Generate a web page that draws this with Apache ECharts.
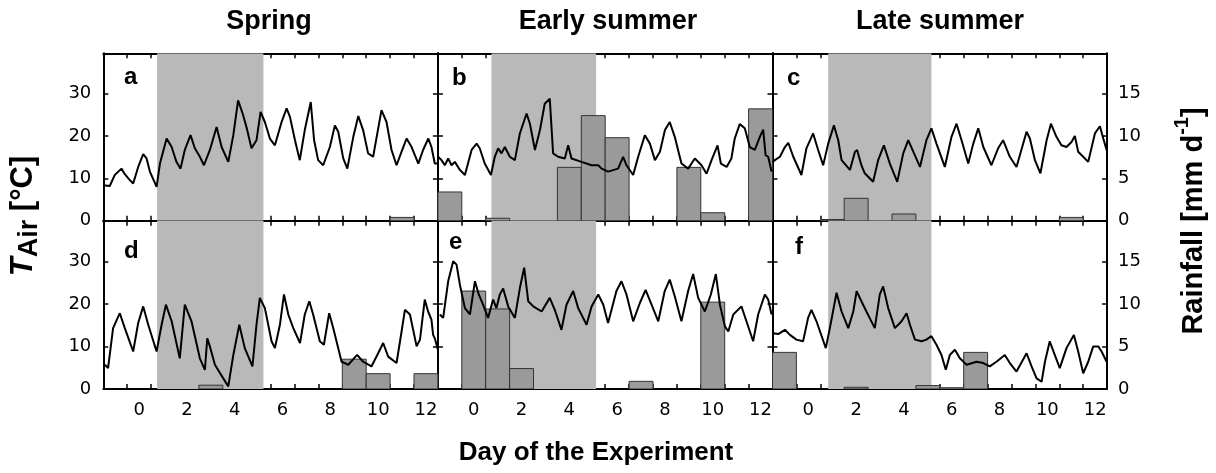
<!DOCTYPE html>
<html><head><meta charset="utf-8">
<script src="https://cdn.jsdelivr.net/npm/echarts@6/dist/echarts.min.js"></script>
<style>html,body{margin:0;padding:0;background:#fff}#c{width:1216px;height:473px}</style>
</head><body><div id="c"></div><script>
// ---------- data ----------
const seasons = ['Spring', 'Early summer', 'Late summer'];
const panelLetters = ['a', 'b', 'c', 'd', 'e', 'f'];
const xTickValues = [-0.5, 0.5, 1.5, 2.5, 3.5, 4.5, 5.5, 6.5, 7.5, 8.5, 9.5, 10.5, 11.5];
const xLabelValues = [0, 2, 4, 6, 8, 10, 12];
const tempTicks = [0, 10, 20, 30];
const rainTicks = [0, 5, 10, 15];
const rainDays = [-1, 0, 1, 2, 3, 4, 5, 6, 7, 8, 9, 10, 11, 12];
// shaded period (start, end day) per season
const bandSpring = [0.75, 5.2];
const bandEarly = [0.74, 5.12];
const bandLate = [0.83, 5.15];

// air temperature [day, degC]
const tempA = [[-1.5,8.4],[-1.23,8.2],[-1.02,10.8],[-0.74,12.3],[-0.6,11.0],[-0.39,9.6],[-0.25,8.8],[-0.04,12.7],[0.17,15.7],[0.31,14.7],[0.45,11.6],[0.73,8.0],[0.87,13.5],[1.15,19.4],[1.36,17.4],[1.56,13.9],[1.73,12.3],[1.91,16.7],[2.15,20.2],[2.33,17.1],[2.54,15.1],[2.71,13.1],[2.96,16.7],[3.24,22.1],[3.45,17.4],[3.73,13.9],[3.94,20.2],[4.14,28.4],[4.33,25.3],[4.49,22.1],[4.7,17.1],[4.91,19.0],[5.08,25.7],[5.26,23.3],[5.47,19.4],[5.68,17.8],[5.96,23.3],[6.17,26.5],[6.31,24.5],[6.52,19.0],[6.72,14.3],[6.93,21.4],[7.18,28.0],[7.32,19.0],[7.49,14.3],[7.7,13.1],[7.98,17.4],[8.19,22.5],[8.33,21.0],[8.54,14.7],[8.71,12.3],[8.96,19.8],[9.17,24.7],[9.37,21.4],[9.58,15.9],[9.79,15.1],[10.14,26.1],[10.35,23.3],[10.56,16.7],[10.77,13.1],[10.98,16.3],[11.19,19.4],[11.4,17.4],[11.68,13.5],[11.88,16.7],[12.1,19.4],[12.23,17.4],[12.37,13.5],[12.5,13.5]];
const tempB = [[-1.49,15.1],[-1.35,14.3],[-1.21,13.1],[-1.07,14.7],[-0.93,13.1],[-0.79,13.9],[-0.58,12.0],[-0.37,10.8],[-0.09,16.7],[0.12,18.2],[0.25,17.1],[0.46,13.5],[0.72,10.8],[0.88,15.1],[1.02,17.1],[1.16,15.9],[1.3,17.4],[1.51,15.1],[1.72,14.3],[1.93,20.6],[2.21,25.3],[2.35,22.9],[2.56,16.7],[2.77,21.4],[2.97,27.6],[3.18,28.8],[3.32,15.9],[3.53,15.1],[3.81,14.7],[3.95,17.8],[4.09,14.7],[4.51,13.9],[4.93,13.1],[5.21,13.1],[5.35,12.3],[5.62,11.6],[6.04,12.3],[6.25,15.1],[6.39,13.1],[6.67,10.8],[6.88,15.1],[7.16,20.2],[7.37,18.2],[7.58,14.3],[7.79,16.3],[8.0,21.4],[8.2,23.3],[8.41,19.8],[8.69,13.5],[8.97,12.3],[9.25,14.7],[9.53,13.1],[9.74,11.1],[9.95,14.3],[10.2,17.8],[10.34,13.5],[10.58,12.7],[10.78,14.7],[10.92,19.4],[11.13,22.8],[11.34,21.8],[11.55,17.4],[11.76,16.7],[11.97,19.8],[12.11,21.5],[12.21,15.5],[12.32,15.1],[12.46,11.6]];
const tempC = [[-1.5,13.9],[-1.4,14.3],[-1.19,15.1],[-0.98,17.4],[-0.84,18.4],[-0.63,15.1],[-0.29,10.8],[-0.08,17.1],[0.2,20.6],[0.41,16.7],[0.62,13.1],[0.83,18.2],[1.07,22.5],[1.25,19.0],[1.39,14.3],[1.74,12.0],[1.95,16.3],[2.04,16.7],[2.22,13.1],[2.36,11.2],[2.71,9.2],[2.92,14.3],[3.16,17.8],[3.41,13.5],[3.72,9.2],[3.97,15.9],[4.18,19.0],[4.39,16.3],[4.67,12.7],[4.94,19.0],[5.15,21.8],[5.36,18.2],[5.71,12.7],[5.99,19.8],[6.2,22.9],[6.41,19.0],[6.69,13.5],[6.9,18.2],[7.11,21.8],[7.32,17.4],[7.66,13.1],[7.94,17.1],[8.15,19.0],[8.43,15.1],[8.71,12.7],[9.13,21.0],[9.27,19.4],[9.48,14.3],[9.71,11.2],[9.97,19.0],[10.15,22.9],[10.38,19.8],[10.59,17.8],[10.8,17.4],[11.01,18.6],[11.15,20.0],[11.29,16.3],[11.5,15.1],[11.71,13.9],[11.99,20.6],[12.2,22.3],[12.34,19.4],[12.48,16.7]];
const tempD = [[-1.43,5.7],[-1.3,4.9],[-1.09,14.3],[-0.81,17.8],[-0.6,14.3],[-0.25,8.8],[-0.04,15.5],[0.17,19.4],[0.38,15.1],[0.73,8.8],[0.94,15.1],[1.12,19.8],[1.36,15.9],[1.7,7.2],[1.91,19.8],[2.19,15.9],[2.54,7.2],[2.75,4.5],[2.85,11.9],[2.96,10.0],[3.17,5.7],[3.52,2.5],[3.73,0.6],[3.94,8.0],[4.19,15.1],[4.42,9.6],[4.74,5.3],[4.91,15.1],[5.05,21.4],[5.26,19.0],[5.54,11.2],[5.68,9.6],[5.89,15.1],[6.06,22.2],[6.24,17.5],[6.45,14.3],[6.73,10.8],[6.93,17.5],[7.12,20.6],[7.28,17.5],[7.56,11.2],[7.73,10.4],[7.95,17.8],[8.12,14.3],[8.47,6.4],[8.75,5.7],[9.12,8.0],[9.37,6.4],[9.72,5.3],[10.0,8.4],[10.21,10.8],[10.42,7.6],[10.77,6.1],[10.98,13.5],[11.12,18.6],[11.33,17.5],[11.61,10.0],[11.75,11.6],[11.95,21.0],[12.09,18.2],[12.23,16.3],[12.3,12.7],[12.37,11.9],[12.5,9.2]];
const tempE = [[-1.42,17.5],[-1.28,16.7],[-1.07,25.3],[-0.86,30.0],[-0.72,29.2],[-0.58,24.5],[-0.37,19.0],[-0.16,17.5],[0.05,25.3],[0.21,22.2],[0.39,19.8],[0.6,16.7],[0.81,21.0],[0.95,19.0],[1.09,22.2],[1.23,23.6],[1.44,19.4],[1.72,16.7],[1.93,23.7],[2.11,28.5],[2.28,20.6],[2.49,19.4],[2.84,18.2],[3.18,21.4],[3.39,18.6],[3.67,13.9],[3.88,19.8],[4.16,23.0],[4.37,19.0],[4.72,15.1],[4.93,19.4],[5.21,22.2],[5.42,19.8],[5.62,15.5],[5.97,23.0],[6.18,25.3],[6.39,22.2],[6.67,15.9],[6.95,20.2],[7.19,23.3],[7.44,19.8],[7.72,15.9],[7.99,23.0],[8.2,25.7],[8.41,21.8],[8.69,15.9],[8.97,23.0],[9.18,27.0],[9.39,21.4],[9.67,18.2],[9.92,22.2],[10.13,27.0],[10.3,19.8],[10.51,14.7],[10.65,13.5],[10.86,17.5],[11.2,19.4],[11.41,15.9],[11.69,11.2],[11.9,17.5],[12.18,22.2],[12.32,21.0],[12.46,17.5]];
const tempF = [[-1.47,13.1],[-1.26,12.9],[-0.98,13.9],[-0.77,12.7],[-0.5,11.6],[-0.22,11.2],[-0.01,16.7],[0.13,18.6],[0.34,15.9],[0.73,9.6],[0.9,14.3],[1.18,22.6],[1.39,18.2],[1.67,14.3],[1.88,18.2],[2.02,23.0],[2.22,20.6],[2.43,18.2],[2.78,14.3],[2.99,22.2],[3.13,24.1],[3.34,19.0],[3.62,14.3],[3.9,15.9],[4.11,17.8],[4.25,15.1],[4.46,11.6],[4.74,11.2],[4.94,11.6],[5.15,12.4],[5.36,10.4],[5.57,8.0],[5.75,4.5],[5.92,8.0],[6.13,9.2],[6.34,7.2],[6.62,5.7],[7.04,6.4],[7.32,6.1],[7.59,5.3],[7.87,6.4],[8.22,8.0],[8.43,6.1],[8.71,4.1],[9.13,8.4],[9.34,5.3],[9.55,2.5],[9.76,1.7],[9.9,6.4],[10.1,11.2],[10.31,8.0],[10.52,4.9],[10.8,9.6],[11.11,12.7],[11.29,8.8],[11.5,3.7],[11.71,6.4],[11.92,10.0],[12.13,10.0],[12.27,8.8],[12.48,6.4]];

// daily rainfall [mm/d], one per rainDays entry
const rainA = [0, 0, 0, 0, 0, 0, 0, 0, 0, 0, 0, 0, 0.4, 0];
const rainB = [3.4, 0, 0.3, 0, 0, 6.3, 12.4, 9.8, 0, 0, 6.3, 0.95, 0, 13.2];
const rainC = [0, 0, 0.15, 2.65, 0, 0.8, 0, 0, 0, 0, 0, 0, 0.4, 0];
const rainD = [0, 0, 0, 0, 0.45, 0, 0, 0, 0, 0, 3.5, 1.8, 0, 1.8];
const rainE = [0, 11.5, 9.4, 2.4, 0, 0, 0, 0, 0.9, 0, 0, 10.2, 0, 0];
const rainF = [4.3, 0, 0, 0.2, 0, 0, 0.4, 0.15, 4.3, 0, 0, 0, 0, 0];

// ---------- layout ----------
const X_MIN = -1.5, X_MAX = 12.5, T_MAX = 39.5, R_MAX = 19.75;
const colLeft = [103.3, 437.9, 772.5];
const colWidth = 334.6;
const rowTop = [53.3, 220.8];
const rowHeight = [167.5, 168.2];
const tickFont = 'DejaVu Sans';
const titleFont = 'Liberation Sans';

const panels = [
  {temp: tempA, rain: rainA, band: bandSpring},
  {temp: tempB, rain: rainB, band: bandEarly},
  {temp: tempC, rain: rainC, band: bandLate},
  {temp: tempD, rain: rainD, band: bandSpring},
  {temp: tempE, rain: rainE, band: bandEarly},
  {temp: tempF, rain: rainF, band: bandLate}
];

const grid = [], xAxis = [], yAxis = [], series = [];
const axisLineStyle = {color: '#000', width: 2};
const tickLineStyle = {color: '#000', width: 1.5};

panels.forEach((p, i) => {
  const row = Math.floor(i / 3), col = i % 3;
  grid.push({left: colLeft[col], top: rowTop[row], width: colWidth, height: rowHeight[row], containLabel: false});
  ['bottom', 'top'].forEach(pos => {
    xAxis.push({
      type: 'value', gridIndex: i, position: pos, min: X_MIN, max: X_MAX,
      axisLine: {show: true, onZero: false, lineStyle: axisLineStyle},
      axisTick: {show: true, inside: true, length: 5, customValues: xTickValues, lineStyle: tickLineStyle},
      axisLabel: {show: pos === 'bottom' && row === 1, customValues: xLabelValues, fontSize: 18,
                  fontFamily: tickFont, color: '#000', margin: 12},
      splitLine: {show: false}
    });
  });
  yAxis.push({
    type: 'value', gridIndex: i, position: 'left', min: 0, max: T_MAX,
    axisLine: {show: true, onZero: false, lineStyle: axisLineStyle},
    axisTick: {show: true, inside: true, length: 5, customValues: tempTicks, lineStyle: tickLineStyle},
    axisLabel: {show: col === 0, customValues: tempTicks, fontSize: 18, fontFamily: tickFont, color: '#000', margin: 12},
    splitLine: {show: false}
  });
  yAxis.push({
    type: 'value', gridIndex: i, position: 'right', min: 0, max: R_MAX,
    axisLine: {show: true, onZero: false, lineStyle: axisLineStyle},
    axisTick: {show: true, inside: true, length: 5, customValues: rainTicks, lineStyle: tickLineStyle},
    axisLabel: {show: col === 2, customValues: rainTicks, fontSize: 18, fontFamily: tickFont, color: '#000', margin: 11},
    splitLine: {show: false}
  });
  // shaded period
  series.push({
    type: 'custom', xAxisIndex: 2 * i, yAxisIndex: 2 * i, z: 1, clip: true, silent: true,
    data: [[p.band[0], p.band[1]]],
    renderItem: (params, api) => {
      const a = api.coord([api.value(0), T_MAX]);
      const b = api.coord([api.value(1), 0]);
      return {type: 'rect', shape: {x: a[0], y: a[1], width: b[0] - a[0], height: b[1] - a[1]},
              style: {fill: '#b9b9b9'}};
    }
  });
  // rainfall bars
  series.push({
    type: 'custom', xAxisIndex: 2 * i, yAxisIndex: 2 * i + 1, z: 2, clip: true,
    data: rainDays.map((d, k) => [d, p.rain[k]]).filter(v => v[1] > 0),
    renderItem: (params, api) => {
      const d = api.value(0), v = api.value(1);
      const a = api.coord([d - 0.5, v]);
      const b = api.coord([d + 0.5, 0]);
      return {type: 'rect', shape: {x: a[0], y: a[1], width: b[0] - a[0], height: b[1] - a[1]},
              style: {fill: '#9a9a9a', stroke: '#333', lineWidth: 1}};
    }
  });
  // air temperature
  series.push({
    type: 'line', xAxisIndex: 2 * i, yAxisIndex: 2 * i, z: 3, data: p.temp,
    showSymbol: false, symbol: 'none', clip: true,
    lineStyle: {color: '#000', width: 2}
  });
});

const graphic = [];
const titleX = [269, 608, 940];
seasons.forEach((s, k) => graphic.push({
  type: 'text', x: titleX[k], y: 22,
  style: {text: s, font: 'bold 27px "' + titleFont + '"', fill: '#000', align: 'center', verticalAlign: 'middle'}
}));
const letterPos = [[124, 77], [452, 78], [787, 78], [124, 251], [449, 242], [795, 247]];
panelLetters.forEach((l, k) => graphic.push({
  type: 'text', x: letterPos[k][0], y: letterPos[k][1],
  style: {text: l, font: 'bold 24px "' + titleFont + '"', fill: '#000', align: 'left', verticalAlign: 'middle'}
}));
graphic.push({
  type: 'text', x: 596, y: 453,
  style: {text: 'Day of the Experiment', font: 'bold 26px "' + titleFont + '"', fill: '#000', align: 'center', verticalAlign: 'middle'}
});
graphic.push({
  type: 'text', x: 25, y: 216, rotation: Math.PI / 2,
  style: {
    text: '{t|T}{s|Air}{n| [°C]}', align: 'center', verticalAlign: 'middle', fill: '#000',
    rich: {
      t: {fontFamily: titleFont, fontWeight: 'bold', fontStyle: 'italic', fontSize: 31, lineHeight: 34, verticalAlign: 'top'},
      s: {fontFamily: titleFont, fontWeight: 'bold', fontSize: 27, lineHeight: 30, padding: [8, 0, 0, 0], verticalAlign: 'top'},
      n: {fontFamily: titleFont, fontWeight: 'bold', fontSize: 31, lineHeight: 34, verticalAlign: 'top'}
    }
  }
});
graphic.push({
  type: 'text', x: 1190, y: 221, rotation: Math.PI / 2,
  style: {
    text: '{n|Rainfall [mm d}{p|-1}{n|]}', align: 'center', verticalAlign: 'middle', fill: '#000',
    rich: {
      n: {fontFamily: titleFont, fontWeight: 'bold', fontSize: 29, lineHeight: 36, padding: [7, 0, 0, 0], verticalAlign: 'top'},
      p: {fontFamily: titleFont, fontWeight: 'bold', fontSize: 20, lineHeight: 24, verticalAlign: 'top'}
    }
  }
});

const chart = echarts.init(document.getElementById('c'));
chart.setOption({
  animation: false,
  backgroundColor: '#fff',
  grid, xAxis, yAxis, series, graphic
});
</script></body></html>
